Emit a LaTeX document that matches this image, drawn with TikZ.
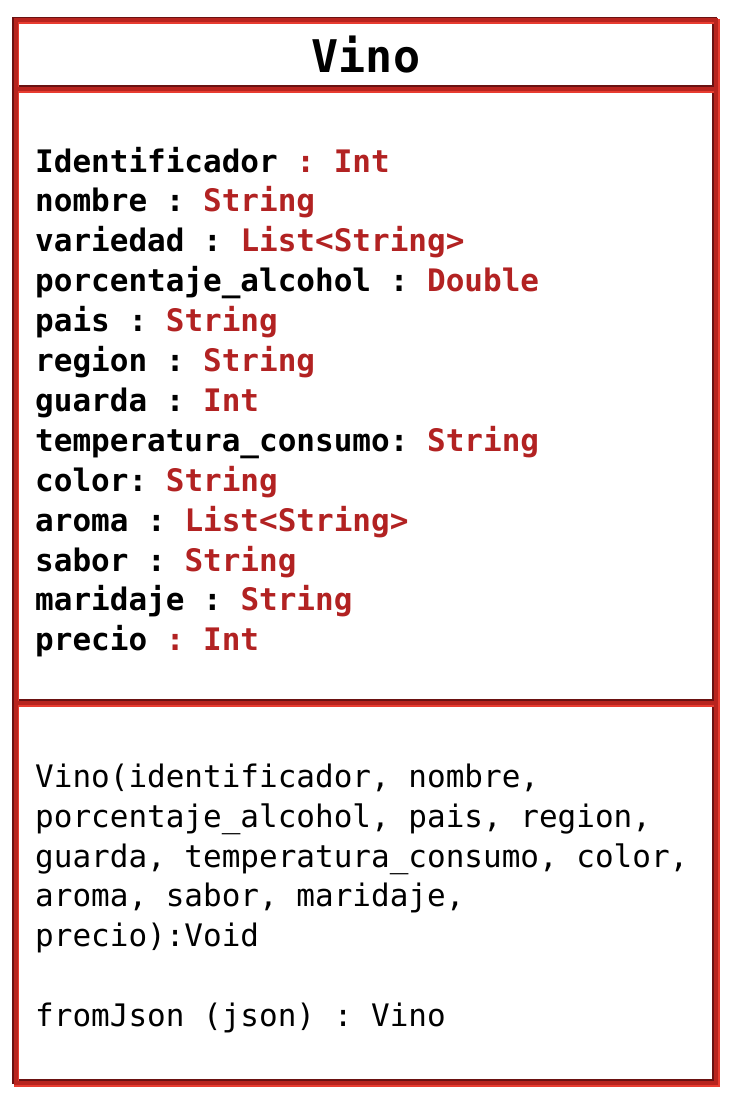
\documentclass[tikz,border=0pt]{standalone}
\usepackage{fontspec}
\setmonofont{DejaVu Sans Mono}
\begin{document}
\begin{tikzpicture}[x=1pt,y=-1pt,
  line/.style={anchor=base west,inner sep=0pt,font=\ttfamily\bfseries\fontsize{31}{40}\selectfont},
  opline/.style={anchor=base west,inner sep=0pt,font=\ttfamily\fontsize{31}{40}\selectfont},
  title/.style={anchor=base,inner sep=0pt,font=\ttfamily\bfseries\fontsize{45}{50}\selectfont}]
\definecolor{typered}{HTML}{B22222}
\definecolor{edgedark}{HTML}{6A1212}
\definecolor{edgemid}{HTML}{B8241E}
\definecolor{edgelight}{HTML}{E83C30}
\useasboundingbox (0,0) rectangle (728,1102);
\fill[white] (0,0) rectangle (728,1102);

% class frame: outer box and the two compartment separators, drawn as a
% bevelled band (dark above/left, light below/right)
\def\frame{(15.5,20.5) rectangle (716,1083) (15.5,89) -- (716,89) (15.5,703) -- (716,703)}
\draw[edgedark,line width=5pt,shift={(-1.25,-1.25)}] \frame;
\draw[edgelight,line width=5pt,shift={(1.25,1.25)}] \frame;
\draw[edgemid,line width=4pt] \frame;

% class name
\node[title] (name) at (366,73) {Vino};

% attributes
\foreach \i/\n/\t in {
  0/Identificador/{\color{typered}: Int},
  1/nombre/{: \color{typered}String},
  2/variedad/{: \color{typered}List<String>},
  3/porcentaje\_alcohol/{: \color{typered}Double},
  4/pais/{: \color{typered}String},
  5/region/{: \color{typered}String},
  6/guarda/{: \color{typered}Int},
  8/color:/{\color{typered}String},
  9/aroma/{: \color{typered}List<String>},
  10/sabor/{: \color{typered}String},
  11/maridaje/{: \color{typered}String},
  12/precio/{\color{typered}: Int}}
  \node[line] (attr\i) at (35,172+39.9*\i) {\n{} \t};
\node[line] (attr7) at (35,172+39.9*7) {temperatura\_consumo: \textcolor{typered}{String}};

% operations
\node[opline] (op1) at (35,787) {Vino(identificador, nombre,};
\node[opline] (op2) at (35,827) {porcentaje\_alcohol, pais, region,};
\node[opline] (op3) at (35,867) {guarda, temperatura\_consumo, color,};
\node[opline] (op4) at (35,906) {aroma, sabor, maridaje,};
\node[opline] (op5) at (35,946) {precio):Void};
\node[opline] (op6) at (35,1026) {fromJson (json) : Vino};
\end{tikzpicture}
\end{document}
